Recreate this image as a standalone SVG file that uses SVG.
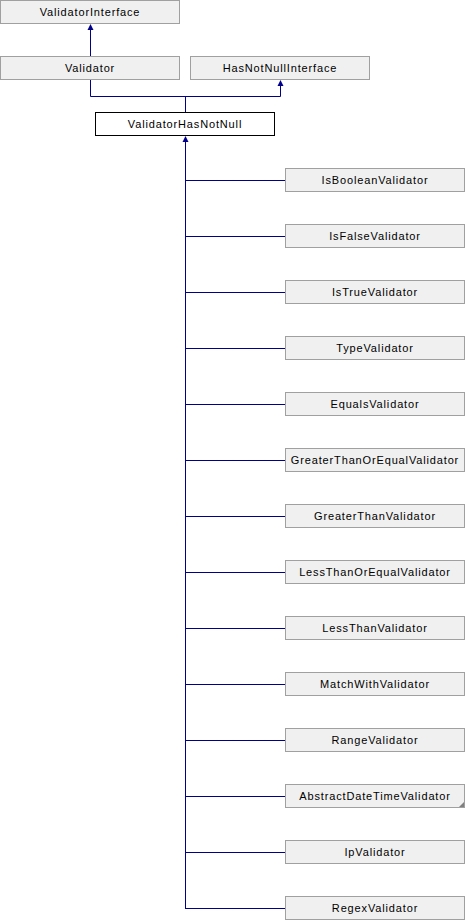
<svg xmlns="http://www.w3.org/2000/svg" width="465" height="920" viewBox="0 0 465 920">
<defs>
<style>
.n rect{fill:#f0f0f0;stroke:#a0a0a0;stroke-width:1}
.n.main rect{fill:#ffffff;stroke:#000000}
.n text{font-family:"Liberation Sans",Arial,sans-serif;font-size:11px;font-weight:normal;letter-spacing:0.85px;fill:#000;text-anchor:middle}
.e path{fill:none;stroke:#00008b;stroke-width:1}
.e polygon{fill:#00008b;stroke:none}
</style>
</defs>
<rect width="465" height="920" fill="#ffffff"/>
<g class="e" id="connectors">
<path d="M90.5,29V96.5H280.5V85"/>
<path d="M185.5,96.5V112"/>
<polygon points="90.5,24 87.5,30 93.5,30"/>
<polygon points="280.5,80 277.5,86 283.5,86"/>
<path d="M185.5,141V908.5"/>
<polygon points="185.5,136 182.5,142 188.5,142"/>
<path d="M185,180.5H285M185,236.5H285M185,292.5H285M185,348.5H285M185,404.5H285M185,460.5H285M185,516.5H285M185,572.5H285M185,628.5H285M185,684.5H285M185,740.5H285M185,796.5H285M185,852.5H285M185,908.5H285"/>
</g>
<g class="n" id="ValidatorInterface"><rect x="0.5" y="0.5" width="179" height="23"/><text x="90" y="15.5">ValidatorInterface</text></g>
<g class="n" id="Validator"><rect x="0.5" y="56.5" width="179" height="23"/><text x="90" y="71.5">Validator</text></g>
<g class="n" id="HasNotNullInterface"><rect x="190.5" y="56.5" width="179" height="23"/><text x="280" y="71.5">HasNotNullInterface</text></g>
<g class="n main" id="ValidatorHasNotNull"><rect x="95.5" y="112.5" width="179" height="23"/><text x="185" y="127.5">ValidatorHasNotNull</text></g>
<g class="n" id="IsBooleanValidator"><rect x="285.5" y="168.5" width="179" height="23"/><text x="375" y="183.5">IsBooleanValidator</text></g>
<g class="n" id="IsFalseValidator"><rect x="285.5" y="224.5" width="179" height="23"/><text x="375" y="239.5">IsFalseValidator</text></g>
<g class="n" id="IsTrueValidator"><rect x="285.5" y="280.5" width="179" height="23"/><text x="375" y="295.5">IsTrueValidator</text></g>
<g class="n" id="TypeValidator"><rect x="285.5" y="336.5" width="179" height="23"/><text x="375" y="351.5">TypeValidator</text></g>
<g class="n" id="EqualsValidator"><rect x="285.5" y="392.5" width="179" height="23"/><text x="375" y="407.5">EqualsValidator</text></g>
<g class="n" id="GreaterThanOrEqualValidator"><rect x="285.5" y="448.5" width="179" height="23"/><text x="375" y="463.5">GreaterThanOrEqualValidator</text></g>
<g class="n" id="GreaterThanValidator"><rect x="285.5" y="504.5" width="179" height="23"/><text x="375" y="519.5">GreaterThanValidator</text></g>
<g class="n" id="LessThanOrEqualValidator"><rect x="285.5" y="560.5" width="179" height="23"/><text x="375" y="575.5">LessThanOrEqualValidator</text></g>
<g class="n" id="LessThanValidator"><rect x="285.5" y="616.5" width="179" height="23"/><text x="375" y="631.5">LessThanValidator</text></g>
<g class="n" id="MatchWithValidator"><rect x="285.5" y="672.5" width="179" height="23"/><text x="375" y="687.5">MatchWithValidator</text></g>
<g class="n" id="RangeValidator"><rect x="285.5" y="728.5" width="179" height="23"/><text x="375" y="743.5">RangeValidator</text></g>
<g class="n" id="AbstractDateTimeValidator"><rect x="285.5" y="784.5" width="179" height="23"/><polygon points="464,802 464,807 459,807" fill="#808080"/><text x="375" y="799.5">AbstractDateTimeValidator</text></g>
<g class="n" id="IpValidator"><rect x="285.5" y="840.5" width="179" height="23"/><text x="375" y="855.5">IpValidator</text></g>
<g class="n" id="RegexValidator"><rect x="285.5" y="896.5" width="179" height="23"/><text x="375" y="911.5">RegexValidator</text></g>
</svg>
